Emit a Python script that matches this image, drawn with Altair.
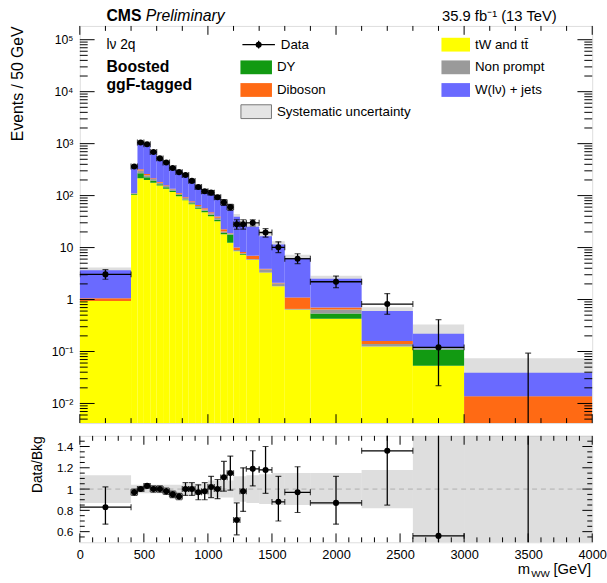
import altair as alt
import pandas as pd

# ---------------- values ----------------
bin_lo = [0, 400, 450, 500, 550, 600, 650, 700, 750, 800, 850, 900, 950, 1000, 1050,
          1100, 1150, 1200, 1250, 1300, 1400, 1500, 1600, 1800, 2200, 2600, 3000]
bin_hi = [400, 450, 500, 550, 600, 650, 700, 750, 800, 850, 900, 950, 1000, 1050, 1100,
          1150, 1200, 1250, 1300, 1400, 1500, 1600, 1800, 2200, 2600, 3000, 4000]

# stacked backgrounds (bottom -> top)
ttbar = [0.94, 104, 215, 200, 176, 156, 135, 117, 97, 81, 68, 56, 48, 40, 32,
         18, 12.4, 8.5, 7.3, 5.8, 3.3, 1.8, 0.64, 0.425, 0.125, 0.053, 0]
dy = [0, 4, 53, 25, 19, 10, 10, 8, 6, 3, 3, 3, 3, 3, 2.5,
      1, 5.5, 0, 0.2, 0, 0, 0, 0, 0.115, 0, 0.056, 0]
nonprompt = [0, 2, 35, 22, 13, 10, 8, 7, 6, 6, 4, 4, 3, 3, 3,
             1.5, 0.5, 0.5, 0.3, 0.2, 0.5, 0.25, 0.02, 0.1, 0.015, 0.006, 0]
diboson = [0.12, 1, 20, 13, 7, 6, 5, 4, 3, 3, 3, 3, 3, 2, 2,
           2, 0.5, 1, 0.4, 1.0, 0.1, 0.05, 0.44, 0.06, 0.02, 0, 0.0137]
wjets = [2.61, 263, 727, 687, 475, 338, 286, 222, 192, 157, 114, 84, 66, 64, 53.5,
         44.5, 33.1, 29.4, 20.4, 18.2, 12.6, 9.4, 5.2, 1.8, 0.44, 0.105, 0.0253]

data_obs = [3.05, 363, 1050, 975, 690, 520, 435, 340, 283, 250, 192, 146, 121, 114, 93,
            74, 60, 28, 28, 30, 19.5, 10.1, 6.1, 2.2, 0.82, 0.12, 0]
data_err_lo = [2.46, 352, 1029, 956, 669, 504, 422, 329, 274, 235, 180, 135, 111, 103, 85,
               65, 52, 22.5, 22.6, 26, 15.9, 8.0, 4.9, 1.69, 0.52, 0.022, 0.00001]
data_err_hi = [3.75, 374, 1071, 994, 711, 536, 448, 351, 292, 265, 204, 157, 131, 125, 101,
               84, 68, 34.3, 34.3, 34.3, 23.1, 12.9, 7.6, 2.83, 1.3, 0.41, 0.093]

ratio = [0.83, 0.97, 1.00, 1.03, 1.00, 1.00, 0.98, 0.95, 0.93, 1.00, 1.00, 0.97, 0.98, 1.02, 1.00,
         1.11, 1.15, 0.71, 0.98, 1.19, 1.18, 0.88, 0.97, 0.87, 1.36, 0.56, 0]
ratio_lo = [0.67, 0.94, 0.98, 1.01, 0.97, 0.97, 0.95, 0.92, 0.90, 0.94, 0.94, 0.90, 0.90, 0.92, 0.91,
            0.98, 0.99, 0.57, 0.79, 1.03, 0.96, 0.70, 0.78, 0.67, 0.85, 0.05, 0.0]
ratio_hi = [1.02, 1.00, 1.02, 1.05, 1.03, 1.03, 1.01, 0.98, 0.96, 1.06, 1.06, 1.04, 1.06, 1.12, 1.09,
            1.26, 1.31, 0.87, 1.20, 1.36, 1.40, 1.12, 1.21, 1.12, 1.65, 1.90, 2.40]

syst_rel = [0.13, 0.04, 0.04, 0.04, 0.04, 0.04, 0.04, 0.04, 0.04, 0.05, 0.05, 0.05, 0.05,
            0.08, 0.08, 0.08, 0.08, 0.12, 0.12, 0.13, 0.14, 0.15, 0.15, 0.15, 0.18, 0.5, 0.9]

comp_names = ["tW and tt\u0304", "DY", "Non prompt", "Diboson", "W(l\u03bd) + jets"]
comp_colors = ["#ffff00", "#129a12", "#9a9a9a", "#ff6a14", "#6a6aff"]
comp_values = [ttbar, dy, nonprompt, diboson, wjets]

main_y_tick_values = [0.01, 0.1, 1, 10, 100, 1000, 10000, 100000]
ratio_y_tick_values = [0.6, 0.8, 1.0, 1.2, 1.4]
x_tick_values = [0, 500, 1000, 1500, 2000, 2500, 3000, 3500, 4000]

# ---------------- layout ----------------
W, H, HR = 520, 403, 108
YMIN, YMAX = 0.0042, 1.84e5
FONT = "Liberation Sans"

nb = len(bin_lo)
bins = pd.DataFrame({
    "lo": bin_lo, "hi": bin_hi,
    "c": [(a + b) / 2 for a, b in zip(bin_lo, bin_hi)],
    "data": data_obs, "elo": data_err_lo, "ehi": data_err_hi,
    "r": ratio, "rlo": ratio_lo, "rhi": ratio_hi, "u": syst_rel,
})
bins["tot"] = [sum(v[i] for v in comp_values) for i in range(nb)]
bins["blo"] = bins["tot"] * (1 - bins["u"])
bins["bhi"] = bins["tot"] * (1 + bins["u"])
bins["rblo"] = 1 - bins["u"]
bins["rbhi"] = 1 + bins["u"]

rows = []
for i in range(nb):
    cum = 0.0
    for name, vals in zip(comp_names, comp_values):
        v = vals[i]
        if v <= 0:
            continue
        y0 = cum if cum > 0 else 1e-5
        cum += v
        rows.append({"lo": bin_lo[i], "hi": bin_hi[i], "y0": y0, "y1": cum, "comp": name})
stack = pd.DataFrame(rows)

pts = bins[bins["data"] > 0]
one = pd.DataFrame({"k": [0], "one": [1.0]})

xs = alt.Scale(domain=[0, 4000], nice=False, zero=False)
ys = alt.Scale(type="log", domain=[YMIN, YMAX], nice=False)
rs = alt.Scale(domain=[0.5, 1.5], nice=False, zero=False)

label_expr = ("datum.value < 0.05 ? '10\u207b\u00b2' : datum.value < 0.5 ? '10\u207b\u00b9' : "
              "datum.value < 5 ? '1' : datum.value < 50 ? '10' : datum.value < 500 ? '10\u00b2' : "
              "datum.value < 5000 ? '10\u00b3' : datum.value < 50000 ? '10\u2074' : '10\u2075'")

main_y_axis = alt.Axis(
    values=main_y_tick_values, labelExpr=label_expr, ticks=False, domain=False, grid=False,
    labelFontSize=12.5, labelPadding=7, labelOverlap=False, labelFont=FONT,
    title="Events / 50 GeV", titleFontSize=16, titleFontWeight="normal", titleFont=FONT,
    titleAnchor="end", titlePadding=26)
ratio_y_axis = alt.Axis(
    values=ratio_y_tick_values, format="~g", ticks=False, domain=False, grid=False,
    labelFontSize=12, labelPadding=7, labelFont=FONT, title="Data/Bkg", titleFontSize=14,
    titleFontWeight="normal", titleFont=FONT, titleAnchor="end", titlePadding=12)
ratio_x_axis = alt.Axis(
    values=x_tick_values, format="d", ticks=False, domain=False, grid=False, labelFontSize=13,
    labelPadding=6, labelFlush=False, labelOverlap=False, labelFont=FONT, title=None)


def XM(f):
    return alt.X(f, scale=xs, axis=None)


def XR(f):
    return alt.X(f, scale=xs, axis=ratio_x_axis)


def YM(f):
    return alt.Y(f, scale=ys, axis=main_y_axis)


def YR(f):
    return alt.Y(f, scale=rs, axis=ratio_y_axis)


def T(s, x, y, size=13, weight="normal", style="normal", align="left", baseline="middle"):
    return alt.Chart(one).mark_text(
        text=s, fontSize=size, fontWeight=weight, fontStyle=style, align=align,
        baseline=baseline, color="black", font=FONT
    ).encode(x=alt.value(x), y=alt.value(y))


def box(x0, x1, y0, y1, fill, stroke=None):
    kw = {"color": fill}
    if stroke:
        kw = {"fill": fill, "stroke": stroke, "strokeWidth": 1}
    return alt.Chart(one).mark_rect(**kw).encode(
        x=alt.value(x0), x2=alt.value(x1), y=alt.value(y0), y2=alt.value(y1))


def y_ticks(vals, length, Y, width):
    df = pd.DataFrame({"v": vals})
    b = alt.Chart(df).mark_rule(color="black", strokeWidth=1)
    return [b.encode(y=Y("v:Q"), x=alt.value(0), x2=alt.value(length)),
            b.encode(y=Y("v:Q"), x=alt.value(width), x2=alt.value(width - length))]


def x_ticks(vals, length, height, X):
    df = pd.DataFrame({"v": vals})
    b = alt.Chart(df).mark_rule(color="black", strokeWidth=1)
    return [b.encode(x=X("v:Q"), y=alt.value(height), y2=alt.value(height - length)),
            b.encode(x=X("v:Q"), y=alt.value(0), y2=alt.value(length))]


def tick_cap(df, orient, xf, yf, X, Y):
    return alt.Chart(df).mark_tick(orient=orient, size=6, thickness=1.2, color="black", clip=True).encode(
        x=X(xf), y=Y(yf))


# ---------------- main panel ----------------
band = alt.Chart(bins).mark_rect(color="#bdbdbd", opacity=0.5, clip=True).encode(
    x=XM("lo:Q"), x2="hi:Q", y=YM("blo:Q"), y2="bhi:Q")

stack_layer = alt.Chart(stack).mark_rect(clip=True).encode(
    x=XM("lo:Q"), x2="hi:Q", y=YM("y0:Q"), y2="y1:Q",
    color=alt.Color("comp:N", scale=alt.Scale(domain=comp_names, range=comp_colors), legend=None),
)

vbar = alt.Chart(bins).mark_rule(color="black", strokeWidth=1.3, clip=True).encode(
    x=XM("c:Q"), y=YM("elo:Q"), y2="ehi:Q")
hbar = alt.Chart(pts).mark_rule(color="black", strokeWidth=1.3, clip=True).encode(
    x=XM("lo:Q"), x2="hi:Q", y=YM("data:Q"))
caps = [tick_cap(pts, "horizontal", "c:Q", "elo:Q", XM, YM),
        tick_cap(bins, "horizontal", "c:Q", "ehi:Q", XM, YM),
        tick_cap(pts, "vertical", "lo:Q", "data:Q", XM, YM),
        tick_cap(pts, "vertical", "hi:Q", "data:Q", XM, YM)]
points = alt.Chart(pts).mark_circle(size=38, color="black", opacity=1, clip=True).encode(
    x=XM("c:Q"), y=YM("data:Q"))

main_minor_y = sorted(k * 10.0 ** d for d in range(-3, 6) for k in range(2, 10) if YMIN < k * 10.0 ** d < YMAX)
main_ticks = (y_ticks(main_y_tick_values, 15, YM, W) + y_ticks(main_minor_y, 8, YM, W)
              + x_ticks([0, 1000, 2000, 3000, 4000], 9, H, XM)
              + x_ticks([v for v in range(200, 4000, 200) if v % 1000], 5, H, XM))

texts = [
    T("CMS", 27, -5, size=16, weight="bold", baseline="alphabetic"),
    T("Preliminary", 67, -5, size=16, style="italic", baseline="alphabetic"),
    T("35.9 fb\u207b\u00b9  (13 TeV)", 484, -5, size=15, align="right", baseline="alphabetic"),
    T("l\u03bd 2q", 27, 19, size=14),
    T("Boosted", 27, 42, size=16, weight="bold"),
    T("ggF-tagged", 27, 60, size=16, weight="bold"),
]

legend = []
legend.append(alt.Chart(one).mark_rule(color="black", strokeWidth=1.3).encode(
    x=alt.value(165), x2=alt.value(198), y=alt.value(19)))
legend.append(alt.Chart(one).mark_rule(color="black", strokeWidth=1.3).encode(
    x=alt.value(181.5), y=alt.value(15), y2=alt.value(23)))
legend.append(alt.Chart(one).mark_circle(size=38, color="black", opacity=1).encode(
    x=alt.value(181.5), y=alt.value(19)))
legend.append(T("Data", 204, 19, size=13.5))
legend.append(box(163, 195, 35, 49, comp_colors[1]))
legend.append(T("DY", 200, 42, size=13.5))
legend.append(box(163, 195, 58, 72, comp_colors[3]))
legend.append(T("Diboson", 200, 65, size=13.5))
legend.append(box(163.5, 194.5, 80, 94, "#e4e4e4", stroke="#777777"))
legend.append(T("Systematic uncertainty", 200, 87, size=13.5))
legend.append(box(367, 396, 12, 26, comp_colors[0]))
legend.append(T(comp_names[0], 401, 19, size=13.5))
legend.append(box(367, 396, 35, 49, comp_colors[2]))
legend.append(T(comp_names[2], 401, 42, size=13.5))
legend.append(box(367, 396, 58, 72, comp_colors[4]))
legend.append(T(comp_names[4], 401, 65, size=13.5))

main = alt.layer(band, stack_layer, vbar, hbar, *caps, points,
                 *main_ticks, *texts, *legend).properties(width=W, height=H)

# ---------------- ratio panel ----------------
rband = alt.Chart(bins).mark_rect(color="#bdbdbd", opacity=0.5, clip=True).encode(
    x=XR("lo:Q"), x2="hi:Q", y=YR("rblo:Q"), y2="rbhi:Q")

one_line = alt.Chart(one).mark_rule(color="#b0b0b0", strokeDash=[5, 4], strokeWidth=1).encode(
    y=YR("one:Q"), x=alt.value(0), x2=alt.value(W))
rv = alt.Chart(bins).mark_rule(color="black", strokeWidth=1.3, clip=True).encode(
    x=XR("c:Q"), y=YR("rlo:Q"), y2="rhi:Q")
rh = alt.Chart(pts).mark_rule(color="black", strokeWidth=1.3, clip=True).encode(
    x=XR("lo:Q"), x2="hi:Q", y=YR("r:Q"))
rcaps = [tick_cap(pts, "horizontal", "c:Q", "rlo:Q", XR, YR),
         tick_cap(pts, "horizontal", "c:Q", "rhi:Q", XR, YR),
         tick_cap(pts, "vertical", "lo:Q", "r:Q", XR, YR),
         tick_cap(pts, "vertical", "hi:Q", "r:Q", XR, YR)]
rpoints = alt.Chart(pts).mark_circle(size=38, color="black", opacity=1, clip=True).encode(
    x=XR("c:Q"), y=YR("r:Q"))

r_minor_y = [round(0.5 + 0.05 * i, 2) for i in range(1, 20)]
r_minor_y = [v for v in r_minor_y if v not in ratio_y_tick_values]
ratio_ticks = (y_ticks(ratio_y_tick_values, 10, YR, W) + y_ticks(r_minor_y, 5, YR, W)
               + x_ticks(x_tick_values, 9, HR, XR)
               + x_ticks([v for v in range(100, 4000, 100) if v % 500], 5, HR, XR))

xtitle = [
    T("m", 457, HR + 32, size=15, align="right", baseline="alphabetic"),
    T("WW", 458, HR + 35, size=10, align="left", baseline="alphabetic"),
    T("[GeV]", 519, HR + 32, size=15, align="right", baseline="alphabetic"),
]

ratio_chart = alt.layer(rband, one_line, rv, rh, *rcaps, rpoints,
                        *ratio_ticks, *xtitle).properties(width=W, height=HR)

chart = alt.vconcat(main, ratio_chart, spacing=11).resolve_scale(
    x="independent", y="independent", color="independent"
).properties(
    padding={"left": 9, "top": 3, "right": 0, "bottom": 0}
).configure_view(stroke="black", strokeWidth=1).configure(font=FONT).configure_axis(
    labelColor="black", titleColor="black")

chart.save("out.html", embed_options={"renderer": "svg", "actions": False})
